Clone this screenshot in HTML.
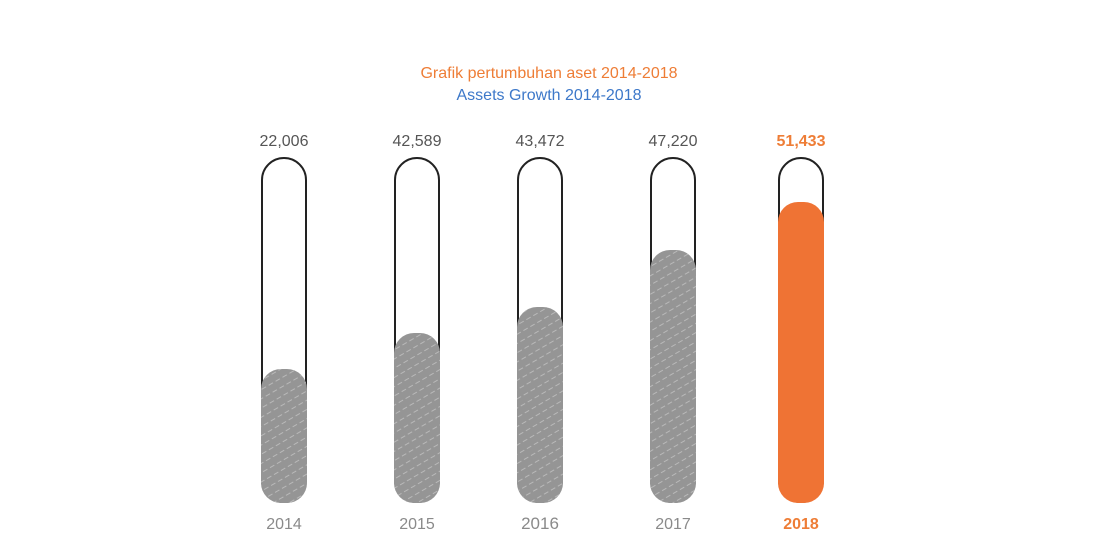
<!DOCTYPE html>
<html><head><style>
html,body{margin:0;padding:0;background:#fff;}
svg{display:block;}
text{font-family:"Liberation Sans",sans-serif;}
</style></head><body>
<svg width="1100" height="560" viewBox="0 0 1100 560">
<text x="549" y="78" text-anchor="middle" font-size="16" fill="#ee7d36">Grafik pertumbuhan aset 2014-2018</text>
<text x="549" y="100" text-anchor="middle" font-size="16" fill="#3d78c9">Assets Growth 2014-2018</text>
<g font-size="16" text-anchor="middle" fill="#555">
<text x="284" y="146">22,006</text>
<text x="417" y="146">42,589</text>
<text x="540" y="146">43,472</text>
<text x="673" y="146">47,220</text>
<text x="801" y="146" fill="#ee7d36" font-weight="bold">51,433</text>
</g>
<g font-size="16" text-anchor="middle" fill="#8a8a8a">
<text x="284" y="529">2014</text>
<text x="417" y="529">2015</text>
<text x="540" y="529" font-size="17">2016</text>
<text x="673" y="529">2017</text>
<text x="801" y="529" fill="#ee7d36" font-weight="bold">2018</text>
</g>
<defs>
<pattern id="h" width="8" height="8" patternUnits="userSpaceOnUse" patternTransform="rotate(-30)">
<line x1="0" y1="4" x2="5" y2="4" stroke="#c8c8c8" stroke-width="1"/>
</pattern>
</defs>
<g stroke="#222" stroke-width="2" fill="none">
<rect x="262" y="158" width="44" height="344" rx="22"/>
<rect x="395" y="158" width="44" height="344" rx="22"/>
<rect x="518" y="158" width="44" height="344" rx="22"/>
<rect x="651" y="158" width="44" height="344" rx="22"/>
<rect x="779" y="158" width="44" height="344" rx="22"/>
</g>
<g fill="#959595">
<rect x="261" y="369" width="46" height="134" rx="20"/>
<rect x="394" y="333" width="46" height="170" rx="20"/>
<rect x="517" y="307" width="46" height="196" rx="20"/>
<rect x="650" y="250" width="46" height="253" rx="20"/>
</g>
<rect x="778" y="202" width="46" height="301" rx="20" fill="#ef7334"/>
<g fill="url(#h)" opacity="0.7">
<rect x="261" y="369" width="46" height="134" rx="20"/>
<rect x="394" y="333" width="46" height="170" rx="20"/>
<rect x="517" y="307" width="46" height="196" rx="20"/>
<rect x="650" y="250" width="46" height="253" rx="20"/>
</g>
</svg>
</body></html>
